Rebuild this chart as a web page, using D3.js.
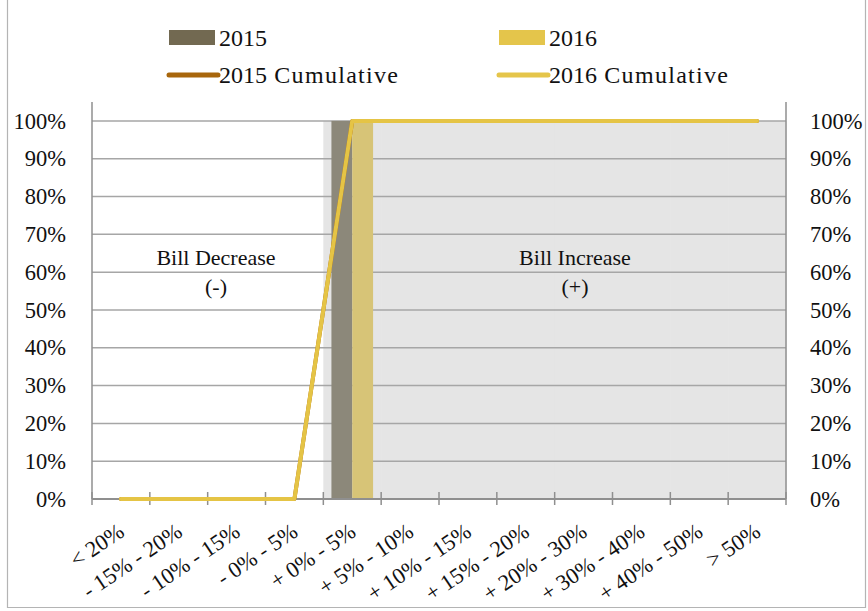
<!DOCTYPE html>
<html>
<head>
<meta charset="utf-8">
<script src="https://cdn.jsdelivr.net/npm/d3@7"></script>
<style>
  html, body { margin: 0; padding: 0; background: #ffffff; }
  svg { display: block; }
  text { font-family: "Liberation Serif", "Times New Roman", serif; fill: #111; }
</style>
</head>
<body>
<svg id="chart" width="868" height="611"></svg>
<script>
// Bill change bands
const categories = ["< 20%", "- 15% - 20%", "- 10% - 15%", "- 0% - 5%", "+ 0% - 5%", "+ 5% - 10%",
  "+ 10% - 15%", "+ 15% - 20%", "+ 20% - 30%", "+ 30% - 40%", "+ 40% - 50%", "> 50%"];

// Share of customers in each band (%)
const share2015 = [0, 0, 0, 0, 100, 0, 0, 0, 0, 0, 0, 0];
const share2016 = [0, 0, 0, 0, 100, 0, 0, 0, 0, 0, 0, 0];

// Cumulative share (%)
const cumulative2015 = [0, 0, 0, 0, 100, 100, 100, 100, 100, 100, 100, 100];
const cumulative2016 = [0, 0, 0, 0, 100, 100, 100, 100, 100, 100, 100, 100];

// Shaded "increase" zone
const increaseZone = [0, 0, 0, 0, 100, 100, 100, 100, 100, 100, 100, 100];

// Axis ticks (%)
const yTicks = [0, 10, 20, 30, 40, 50, 60, 70, 80, 90, 100];

const seriesNames = ["2015", "2016"];
const legendNames = ["2015", "2016", "2015 Cumulative", "2016 Cumulative"];
const zoneLabels = [["Bill Decrease", "(-)"], ["Bill Increase", "(+)"]];

const svg = d3.select("#chart");
const plot = { left: 92, right: 786, top: 102, bottom: 499 };

const x = d3.scaleBand().domain(categories).range([plot.left, plot.right]).padding(0);
const bw = x.bandwidth();
const y = d3.scaleLinear().domain([0, 105]).range([plot.bottom, plot.top]);
const sub = d3.scaleBand().domain(seriesNames).range([bw * 0.14, bw * 0.86]).padding(0);

// chart frame
svg.append("path")
  .attr("d", "M7.5,0 V607.5 H865.5 V0")
  .attr("fill", "none").attr("stroke", "#b4b4b4").attr("stroke-width", 1.2);

// shaded increase zone
svg.append("g").selectAll("rect")
  .data(categories.map((c, i) => ({ c, v: increaseZone[i] })).filter(d => d.v > 0))
  .join("rect")
  .attr("x", d => x(d.c)).attr("width", bw + 0.5)
  .attr("y", d => y(d.v)).attr("height", d => y(0) - y(d.v))
  .attr("fill", "#e5e5e5");

// gridlines
svg.append("g").selectAll("line")
  .data(yTicks.filter(t => t > 0))
  .join("line")
  .attr("x1", plot.left).attr("x2", plot.right)
  .attr("y1", d => y(d)).attr("y2", d => y(d))
  .attr("stroke", "#a6a6a6").attr("stroke-width", 1.5);

// bars
const barColors = { "2015": "#8c887a", "2016": "#d7c477" };
const barData = [];
categories.forEach((c, i) => {
  barData.push({ c, s: "2015", v: share2015[i] });
  barData.push({ c, s: "2016", v: share2016[i] });
});
svg.append("g").selectAll("rect")
  .data(barData.filter(d => d.v > 0))
  .join("rect")
  .attr("x", d => x(d.c) + sub(d.s)).attr("width", sub.bandwidth())
  .attr("y", d => y(d.v)).attr("height", d => y(0) - y(d.v))
  .attr("fill", d => barColors[d.s]);

// axes lines
svg.append("line").attr("x1", plot.left).attr("x2", plot.left)
  .attr("y1", plot.top).attr("y2", plot.bottom)
  .attr("stroke", "#8f8f8f").attr("stroke-width", 1.5);
svg.append("line").attr("x1", plot.right).attr("x2", plot.right)
  .attr("y1", plot.top).attr("y2", plot.bottom)
  .attr("stroke", "#8f8f8f").attr("stroke-width", 1.5);
svg.append("line").attr("x1", plot.left).attr("x2", plot.right)
  .attr("y1", plot.bottom).attr("y2", plot.bottom)
  .attr("stroke", "#8f8f8f").attr("stroke-width", 2);

// category boundary ticks
const bounds = categories.map(c => x(c)).concat([x.range()[1]]);
svg.append("g").selectAll("line")
  .data(bounds)
  .join("line")
  .attr("x1", d => d).attr("x2", d => d)
  .attr("y1", plot.bottom - 7).attr("y2", plot.bottom + 6)
  .attr("stroke", "#8f8f8f").attr("stroke-width", 1.5);

// y axes (left and right)
const fmt = d => d + "%";
const leftAxis = svg.append("g").attr("transform", `translate(${plot.left},0)`)
  .call(d3.axisLeft(y).tickValues(yTicks).tickFormat(fmt).tickSize(0).tickPadding(26));
const rightAxis = svg.append("g").attr("transform", `translate(${plot.right},0)`)
  .call(d3.axisRight(y).tickValues(yTicks).tickFormat(fmt).tickSize(0).tickPadding(24));
[leftAxis, rightAxis].forEach(g => {
  g.select(".domain").remove();
  g.selectAll("text").attr("font-size", 22.5).attr("font-family", "Liberation Serif").attr("fill", "#111");
});

// x axis labels
const bottomAxis = svg.append("g").attr("transform", `translate(0,${plot.bottom})`)
  .call(d3.axisBottom(x).tickSize(0).tickPadding(0));
bottomAxis.select(".domain").remove();
bottomAxis.selectAll(".tick line").remove();
bottomAxis.selectAll("text")
  .attr("font-size", 22.5).attr("font-family", "Liberation Serif").attr("fill", "#111")
  .attr("text-anchor", "end")
  .attr("dy", null).attr("y", null)
  .attr("transform", "translate(5,36) rotate(-34)");

// cumulative lines
const line = d3.line()
  .x((d, i) => x(categories[i]) + bw / 2)
  .y(d => y(d));
svg.append("path").datum(cumulative2015)
  .attr("d", line).attr("fill", "none")
  .attr("stroke", "#a8660c").attr("stroke-width", 4)
  .attr("stroke-linejoin", "round").attr("stroke-linecap", "round");
svg.append("path").datum(cumulative2016)
  .attr("d", line).attr("fill", "none")
  .attr("stroke", "#e5c445").attr("stroke-width", 4)
  .attr("stroke-linejoin", "round").attr("stroke-linecap", "round");

// zone labels
const zoneX = [216, 575];
zoneLabels.forEach((lab, i) => {
  svg.append("text").attr("x", zoneX[i]).attr("y", 265)
    .attr("text-anchor", "middle").attr("font-size", 22).text(lab[0]);
  svg.append("text").attr("x", zoneX[i]).attr("y", 294)
    .attr("text-anchor", "middle").attr("font-size", 22).text(lab[1]);
});

// legend
const legend = svg.append("g");
const legendPos = [[169, 0], [499, 0], [169, 1], [499, 1]];
const legendColors = ["#726951", "#e4c54b", "#a8660c", "#e5c54a"];
legendNames.forEach((name, i) => {
  const [lx, row] = legendPos[i];
  if (row === 0) {
    legend.append("rect").attr("x", lx).attr("y", 30).attr("width", 46).attr("height", 15)
      .attr("fill", legendColors[i]);
  } else {
    legend.append("line").attr("x1", lx).attr("x2", lx + 49).attr("y1", 75).attr("y2", 75)
      .attr("stroke", legendColors[i]).attr("stroke-width", 5).attr("stroke-linecap", "round");
  }
  const t = legend.append("text").attr("x", lx + 50).attr("y", row === 0 ? 46 : 83)
    .attr("font-size", 24);
  const parts = name.split(" ");
  t.append("tspan").text(parts[0]);
  if (parts.length > 1) {
    t.append("tspan").attr("letter-spacing", 1.3).text(" " + parts.slice(1).join(" "));
  }
});
</script>
</body>
</html>
